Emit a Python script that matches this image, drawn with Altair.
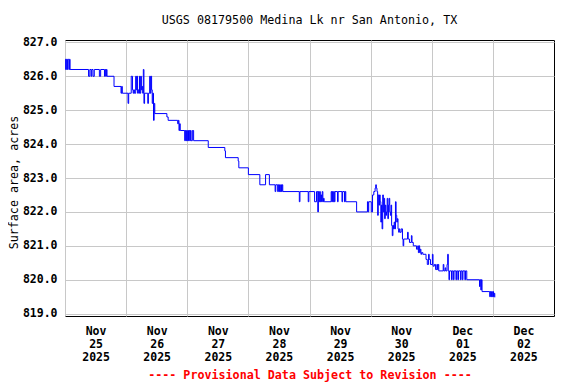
import altair as alt
import pandas as pd

# ---- data (hours after 2025-11-25 00:00, surface area in acres) ----
seg_a_hours = [0.0, 0.25, 0.5, 0.75, 1.0, 1.5, 1.75, 2.0, 9.25, 9.75, 10.25, 10.5, 11.0, 11.5,
               13.5, 14.0, 15.5, 15.75, 16.0, 16.25, 16.5, 19.25, 22.0, 22.25, 22.5, 24.75, 25.0,
               26.0, 26.5, 26.75, 27.0, 27.25, 27.75, 28.0, 28.25, 28.5, 28.75, 29.0, 29.25, 29.5,
               29.75, 30.0, 30.25, 30.5, 30.75, 31.0, 31.25, 32.5, 32.75, 33.25, 33.5, 33.75, 34.0,
               34.25, 34.5, 34.75, 35.0, 35.25, 40.0, 40.5]
seg_a_acres = [826.5, 826.2, 826.5, 826.2, 826.5, 826.2, 826.5, 826.2, 826.0, 826.2, 826.0, 826.2, 826.0, 826.2,
               826.0, 826.2, 826.0, 826.2, 826.0, 826.2, 826.0, 825.7, 825.5, 825.7, 825.5, 825.2, 825.5,
               826.0, 825.6, 825.5, 825.6, 825.5, 826.0, 825.6, 826.0, 825.5, 825.6, 825.5, 826.0, 825.5,
               826.0, 825.6, 825.7, 825.5, 826.2, 825.2, 825.5, 825.2, 825.5, 826.0, 825.5, 826.0, 825.6,
               825.2, 825.5, 824.7, 825.2, 824.9, 824.8, 824.7]

seg_b_hours = [44.25, 44.5, 44.75, 45.0, 45.25, 47.0, 47.25, 47.5, 47.75, 48.0, 48.25, 48.5, 48.75,
               49.0, 49.25, 49.5, 50.0, 50.5, 56.25, 62.75, 63.0, 68.0, 68.25, 72.0, 76.5, 78.75, 80.25]
seg_b_acres = [824.6, 824.7, 824.4, 824.6, 824.4, 824.1, 824.4, 824.1, 824.4, 824.1, 824.4, 824.1, 824.4,
               824.1, 824.4, 824.1, 824.4, 824.1, 823.9, 823.8, 823.6, 823.5, 823.3, 823.1, 822.8, 823.1, 822.8]

seg_c_hours = [82.5, 82.75, 83.5, 83.75, 84.0, 84.25, 84.5, 84.75, 85.0, 85.25, 85.5, 92.0, 92.25,
               95.5, 95.75, 98.0, 98.75, 99.25, 99.5, 99.75, 100.0, 100.25, 100.5, 100.75, 101.0,
               101.25, 101.5, 101.75, 104.5, 104.75, 105.0, 105.25, 105.5, 105.75, 106.0, 107.0,
               107.25, 108.75, 109.0, 109.75, 110.0, 110.25, 114.5, 118.75, 119.0, 119.25, 120.25,
               120.75, 121.25, 121.75, 122.0, 122.25, 122.5]
seg_c_acres = [822.6, 822.8, 822.6, 822.8, 822.6, 822.8, 822.6, 822.8, 822.6, 822.8, 822.6, 822.3, 822.6,
               822.3, 822.6, 822.3, 822.6, 822.0, 822.6, 822.3, 822.6, 822.3, 822.5, 822.3, 822.6,
               822.3, 822.4, 822.3, 822.6, 822.3, 822.6, 822.3, 822.6, 822.3, 822.6, 822.3,
               822.6, 822.3, 822.6, 822.3, 822.6, 822.3, 822.0, 822.3, 822.0, 822.3, 822.0,
               822.5, 822.6, 822.7, 822.8, 822.7, 822.6]

seg_d_hours = [122.75, 123.0, 123.25, 123.5, 123.75, 124.0, 124.25, 124.5, 124.75, 125.0, 125.25,
               125.5, 125.75, 126.0, 126.25, 126.5, 126.75, 127.0, 127.25, 127.5, 127.75, 128.0,
               128.25, 128.5, 128.75, 129.0, 129.25, 129.5, 129.75, 130.0, 130.25, 130.5, 130.75,
               131.0, 131.25, 131.5, 132.0, 132.5, 132.75, 133.0, 134.5, 134.75, 135.25, 136.0,
               136.25, 136.75, 138.0, 138.5, 138.75, 139.0, 139.25, 139.5, 139.75, 140.0, 140.5]
seg_d_acres = [821.9, 822.5, 822.2, 822.5, 822.3, 821.7, 822.2, 821.5, 822.5, 822.0, 822.4,
               821.8, 822.2, 821.9, 822.0, 822.4, 821.8, 822.2, 822.4, 822.0, 821.9, 822.2,
               821.6, 821.3, 821.6, 821.5, 821.7, 821.5, 822.3, 821.9, 821.7, 821.8, 821.5,
               821.4, 821.5, 821.4, 821.5, 821.2, 821.0, 821.2, 821.4, 821.2, 821.1, 821.3,
               821.1, 821.0, 820.9, 821.0, 820.8, 821.0, 820.8, 820.9, 820.75, 820.8, 820.75]

seg_e_hours = [141.75, 142.25, 142.75, 143.0, 143.5, 144.25, 144.5, 145.0, 145.5, 146.0, 146.25,
               146.5, 146.75, 148.5, 148.75, 149.25, 149.5, 150.0, 150.25, 150.5, 150.75, 151.0,
               151.75, 152.0, 152.5, 152.75, 153.5, 153.75, 154.25, 154.5, 155.25, 155.5, 156.0,
               156.25, 157.0, 157.25, 157.75, 162.75, 163.0, 163.25, 163.5, 163.75, 166.75, 167.0,
               167.25, 167.5, 167.75, 168.0, 168.25, 168.5, 168.75]
seg_e_acres = [820.6, 820.45, 820.75, 820.6, 820.45, 820.75, 820.4, 820.45, 820.3, 820.45, 820.3,
               820.45, 820.26, 820.45, 820.26, 820.35, 820.26, 820.45, 820.75, 820.26, 820.0, 820.26,
               820.0, 820.26, 820.0, 820.26, 820.0, 820.26, 820.0, 820.26, 820.0, 820.26, 820.0,
               820.26, 820.0, 820.26, 820.0, 819.8, 820.0, 819.7, 820.0, 819.65, 819.5, 819.65,
               819.5, 819.65, 819.5, 819.65, 819.5, 819.6, 819.48]

y_ticks = [819, 820, 821, 822, 823, 824, 825, 826, 827]
x_tick_days = [(11, 25), (11, 26), (11, 27), (11, 28), (11, 29), (11, 30), (12, 1), (12, 2)]

title_text = "USGS 08179500 Medina Lk nr San Antonio, TX"
y_title = "Surface area, acres"
footer_text = "---- Provisional Data Subject to Revision ----"

# ---- build table ----
hours = seg_a_hours + seg_b_hours + seg_c_hours + seg_d_hours + seg_e_hours
acres = seg_a_acres + seg_b_acres + seg_c_acres + seg_d_acres + seg_e_acres
assert len(hours) == len(acres)
start = pd.Timestamp("2025-11-25 00:00:00")
times = [(start + pd.Timedelta(hours=h)).strftime("%Y-%m-%dT%H:%M:%S") for h in hours]
df = pd.DataFrame({"time": times, "area": acres})

FONT = "DejaVu Sans Mono"
W, H = 489, 276

x_axis = alt.Axis(
    values=[alt.DateTime(year=2025, month=m, date=d) for m, d in x_tick_days],
    labelExpr="[timeFormat(datum.value, '%b'), timeFormat(datum.value, '%d'), timeFormat(datum.value, '%Y')]",
    grid=True, gridColor="#C8C8C8", gridWidth=1,
    ticks=False, domain=False,
    labelOffset=W / 16, labelFlush=False, labelAlign="center", labelBaseline="top",
    labelPadding=9, labelLineHeight=13, labelOverlap=False,
    labelFont=FONT, labelFontSize=11.5, labelFontWeight="bold", labelColor="black",
    title=footer_text, titleColor="red", titleFont=FONT, titleFontSize=11.7,
    titleFontWeight="bold", titlePadding=7,
)

y_axis = alt.Axis(
    values=y_ticks, format=".1f",
    grid=True, gridColor="#C8C8C8", gridWidth=1,
    ticks=False, domain=False, labelPadding=8,
    labelFont=FONT, labelFontSize=11.5, labelFontWeight="bold", labelColor="black",
    title=y_title, titleFont=FONT, titleFontSize=11.7, titleFontWeight="normal",
    titleColor="black", titlePadding=3, titleY=142,
)

chart = alt.Chart(df).mark_line(
    interpolate="step-after", color="#0000FF", strokeWidth=1
).encode(
    x=alt.X("time:T", axis=x_axis,
            scale=alt.Scale(domain=[alt.DateTime(year=2025, month=11, date=25),
                                    alt.DateTime(year=2025, month=12, date=3)])),
    y=alt.Y("area:Q", axis=y_axis,
            scale=alt.Scale(domain=[818.93, 827.07], nice=False, zero=False)),
).properties(
    width=W, height=H,
    autosize=alt.AutoSizeParams(type="none"),
    padding={"left": 57, "top": 32, "right": 10, "bottom": 70},
    title=alt.Title(title_text, font=FONT, fontSize=11.7, fontWeight="normal",
                    color="black", anchor="middle", offset=10),
    background="white",
).configure_view(stroke="black", strokeWidth=1)

chart.save("out.html", embed_options={"renderer": "svg", "actions": False})
